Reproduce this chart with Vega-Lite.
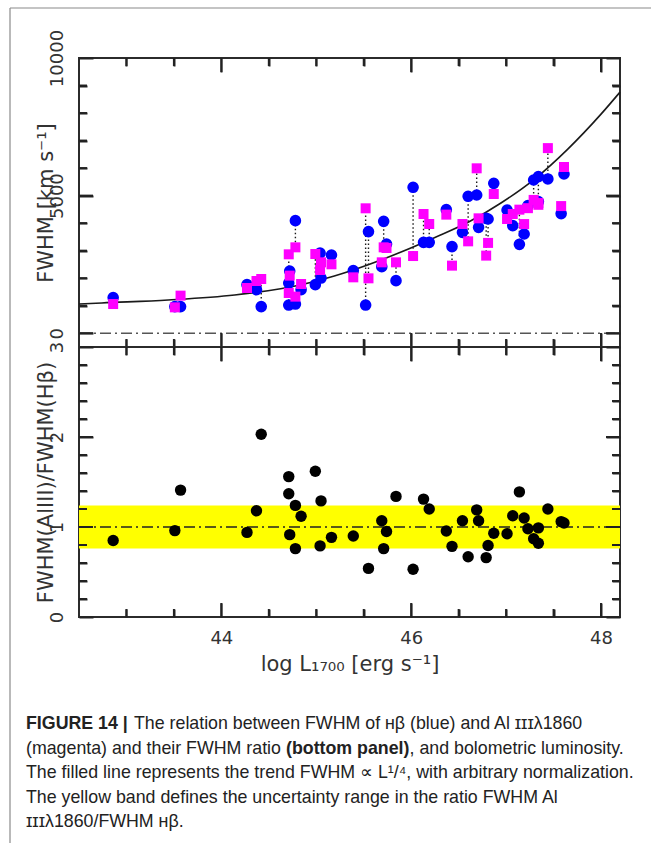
{
"$schema":"https://vega.github.io/schema/vega-lite/v6.json",
"background":"white",
"padding":{"left":8,"top":6,"right":0,"bottom":0},
"autosize":{"type":"pad"},
"spacing":0,
"bounds":"flush",
"config":{
 "view":{"stroke":"#2b2b2b","strokeWidth":2},
 "axis":{"ticks":true,"zindex":1,"domain":false,"grid":false,"tickColor":"#222222","tickWidth":2,"labelFont":"DejaVu Sans","labelFontSize":18,"labelColor":"#333","titleFont":"DejaVu Sans","titleFontSize":21,"titleFontWeight":"normal","titleColor":"#333","labelFlush":false,"labelOverlap":false,"labelBound":false}
},
"datasets":{
 "obj":[
  {"L":42.86,"hb":1294,"al":1061,"r":0.85},
  {"L":43.51,"hb":967,"al":941,"r":0.96},
  {"L":43.57,"hb":967,"al":1366,"r":1.41},
  {"L":44.27,"hb":1766,"al":1643,"r":0.94},
  {"L":44.37,"hb":1584,"al":1897,"r":1.18},
  {"L":44.42,"hb":967,"al":1970,"r":2.03},
  {"L":44.71,"hb":1824,"al":2867,"r":1.56},
  {"L":44.71,"hb":1025,"al":1461,"r":1.37},
  {"L":44.72,"hb":2260,"al":2093,"r":0.915},
  {"L":44.78,"hb":4091,"al":3121,"r":0.76},
  {"L":44.78,"hb":1061,"al":1330,"r":1.24},
  {"L":44.84,"hb":1584,"al":1788,"r":1.12},
  {"L":44.99,"hb":1766,"al":2878,"r":1.62},
  {"L":45.05,"hb":2006,"al":2576,"r":1.29},
  {"L":45.04,"hb":2914,"al":2297,"r":0.79},
  {"L":45.16,"hb":2842,"al":2504,"r":0.885},
  {"L":45.39,"hb":2275,"al":2031,"r":0.9},
  {"L":45.55,"hb":3692,"al":1995,"r":0.54},
  {"L":45.52,"hb":1025,"al":4539,"r":null},
  {"L":45.69,"hb":2420,"al":2576,"r":1.07},
  {"L":45.74,"hb":3241,"al":3096,"r":0.95},
  {"L":45.71,"hb":4066,"al":3121,"r":0.76},
  {"L":45.84,"hb":1911,"al":2576,"r":1.34},
  {"L":46.02,"hb":5302,"al":2805,"r":0.53},
  {"L":46.13,"hb":3303,"al":4332,"r":1.31},
  {"L":46.19,"hb":3303,"al":3968,"r":1.2},
  {"L":46.37,"hb":4491,"al":4309,"r":0.955},
  {"L":46.43,"hb":3147,"al":2456,"r":0.785},
  {"L":46.54,"hb":3666,"al":3968,"r":1.07},
  {"L":46.6,"hb":4975,"al":3339,"r":0.67},
  {"L":46.69,"hb":5022,"al":5992,"r":1.19},
  {"L":46.71,"hb":3848,"al":4175,"r":1.07},
  {"L":46.79,"hb":4175,"al":2820,"r":0.66},
  {"L":46.81,"hb":4150,"al":3282,"r":0.795},
  {"L":46.87,"hb":5447,"al":5058,"r":0.93},
  {"L":47.01,"hb":4477,"al":4150,"r":0.925},
  {"L":47.07,"hb":3910,"al":4332,"r":1.125},
  {"L":47.14,"hb":3230,"al":4490,"r":1.39},
  {"L":47.19,"hb":3606,"al":3966,"r":1.1},
  {"L":47.23,"hb":4636,"al":4544,"r":0.98},
  {"L":47.29,"hb":5568,"al":4844,"r":0.87},
  {"L":47.34,"hb":4782,"al":4730,"r":0.99},
  {"L":47.34,"hb":5690,"al":4666,"r":0.82},
  {"L":47.44,"hb":5605,"al":6726,"r":1.2},
  {"L":47.58,"hb":4346,"al":4620,"r":1.06},
  {"L":47.61,"hb":5785,"al":6040,"r":1.045}
 ],
 "curve":[
  {"L":42.5,"F":1060},{"L":42.74,"F":1100},{"L":43.44,"F":1208},{"L":44.14,"F":1389},{"L":44.84,"F":1760},{"L":45.19,"F":2080},{"L":45.54,"F":2480},{"L":45.9,"F":2960},{"L":46.25,"F":3480},{"L":46.6,"F":4030},{"L":46.95,"F":4740},{"L":47.3,"F":5600},{"L":47.65,"F":6690},{"L":48.0,"F":7960},{"L":48.2,"F":8760}
 ],
 "band":[{"lo":0.76,"hi":1.24}],
 "xmaj":[{"v":44},{"v":46},{"v":48}],
 "xmin":[{"v":43},{"v":43.5},{"v":44.5},{"v":45},{"v":45.5},{"v":46.5},{"v":47},{"v":47.5}],
 "ymajT":[{"v":0},{"v":5000}],
 "yminT":[{"v":1000},{"v":2000},{"v":3000},{"v":4000},{"v":6000},{"v":7000},{"v":8000},{"v":9000}],
 "ymajB":[{"v":1},{"v":2}],
 "yminB":[{"v":0.2},{"v":0.4},{"v":0.6},{"v":0.8},{"v":1.2},{"v":1.4},{"v":1.6},{"v":1.8},{"v":2.2},{"v":2.4},{"v":2.6},{"v":2.8}],
 "caption":[
  {"line":1,"s":"a","t":"FIGURE 14 |"},
  {"line":1,"s":"b","t":"The relation between FWHM of ʜβ (blue) and Al ɪɪɪλ1860"},
  {"line":2,"s":"c","t":"(magenta) and their FWHM ratio"},
  {"line":2,"s":"d","t":"(bottom panel)"},
  {"line":2,"s":"e","t":", and bolometric luminosity."},
  {"line":3,"s":"c","t":"The filled line represents the trend FWHM ∝ L¹/⁴, with arbitrary normalization."},
  {"line":4,"s":"c","t":"The yellow band defines the uncertainty range in the ratio FWHM Al"},
  {"line":5,"s":"c","t":"ɪɪɪλ1860/FWHM ʜβ."}
 ]
},
"vconcat":[
 {
  "width":541,"height":289,
  "resolve":{"axis":{"x":"independent","y":"independent"}},
  "layer":[
   {"data":{"values":[{"f":1}]},"mark":{"type":"rule","color":"#8a8a8a","strokeWidth":1.2},"encoding":{"x":{"value":-69},"y":{"value":-50},"y2":{"value":900}}},
   {"data":{"values":[{"f":1}]},"mark":{"type":"rule","color":"#8a8a8a","strokeWidth":1.2},"encoding":{"x":{"value":-69},"x2":{"value":700},"y":{"value":-50}}},
   {"data":{"name":"curve"},"mark":{"type":"line","color":"#1a1a1a","strokeWidth":1.6,"interpolate":"monotone"},
    "encoding":{
     "x":{"field":"L","type":"quantitative","scale":{"domain":[42.5,48.2],"nice":false,"zero":false},
      "axis":{"orient":"bottom","values":[44,46,48],"tickSize":-14,"labels":false,"title":null}},
     "y":{"field":"F","type":"quantitative","scale":{"domain":[-500,10000],"nice":false,"zero":false},
      "axis":{"orient":"left","values":[0,5000,10000],"tickSize":-14,"format":"d","labelAngle":270,"labelAlign":"center","labelBaseline":"bottom","labelPadding":27,"title":"FWHM [km s⁻¹]","titlePadding":-8}}
    }},
   {"data":{"values":[{"v":0}]},"mark":{"type":"rule","color":"#555","strokeWidth":1.3,"strokeDash":[11,4,2,4]},
    "encoding":{
     "x":{"datum":42.5,"type":"quantitative","axis":{"orient":"bottom","values":[43,43.5,44.5,45,45.5,46.5,47,47.5],"tickSize":-8,"labels":false,"title":null}},
     "x2":{"datum":48.2},
     "y":{"field":"v","type":"quantitative","axis":{"orient":"left","values":[1000,2000,3000,4000,6000,7000,8000,9000],"tickSize":-8,"labels":false,"title":null}}
    }},
   {"data":{"name":"obj"},"mark":{"type":"rule","color":"#1a1a1a","strokeWidth":1.4,"strokeDash":[1.5,2.5]},
    "encoding":{
     "x":{"field":"L","type":"quantitative","axis":{"orient":"top","values":[44,46,48],"tickSize":-14,"labels":false,"title":null}},
     "y":{"field":"hb","type":"quantitative","axis":{"orient":"right","values":[0,5000,10000],"tickSize":-14,"labels":false,"title":null}},
     "y2":{"field":"al"}
    }},
   {"data":{"name":"obj"},"mark":{"type":"circle","color":"#0000ff","size":135,"opacity":1},
    "encoding":{
     "x":{"field":"L","type":"quantitative","axis":{"orient":"top","values":[43,43.5,44.5,45,45.5,46.5,47,47.5],"tickSize":-8,"labels":false,"title":null}},
     "y":{"field":"hb","type":"quantitative","axis":{"orient":"right","values":[1000,2000,3000,4000,6000,7000,8000,9000],"tickSize":-8,"labels":false,"title":null}}
    }},
   {"data":{"name":"obj"},"mark":{"type":"square","color":"#ff00ff","size":100,"opacity":1},"encoding":{"x":{"field":"L","type":"quantitative","axis":null},"y":{"field":"al","type":"quantitative","axis":null}}},
   {"data":{"name":"xmaj"},"mark":{"type":"tick","orient":"vertical","size":28,"thickness":2,"color":"#222","opacity":1,"clip":true},"encoding":{"x":{"field":"v","type":"quantitative","axis":null},"y":{"datum":10000,"type":"quantitative","axis":null}}},
   {"data":{"name":"xmaj"},"mark":{"type":"tick","orient":"vertical","size":28,"thickness":2,"color":"#222","opacity":1,"clip":true},"encoding":{"x":{"field":"v","type":"quantitative","axis":null},"y":{"datum":-500,"type":"quantitative","axis":null}}},
   {"data":{"name":"xmin"},"mark":{"type":"tick","orient":"vertical","size":16,"thickness":2,"color":"#222","opacity":1,"clip":true},"encoding":{"x":{"field":"v","type":"quantitative","axis":null},"y":{"datum":10000,"type":"quantitative","axis":null}}},
   {"data":{"name":"xmin"},"mark":{"type":"tick","orient":"vertical","size":16,"thickness":2,"color":"#222","opacity":1,"clip":true},"encoding":{"x":{"field":"v","type":"quantitative","axis":null},"y":{"datum":-500,"type":"quantitative","axis":null}}},
   {"data":{"name":"ymajT"},"mark":{"type":"tick","orient":"horizontal","size":28,"thickness":2,"color":"#222","opacity":1,"clip":true},"encoding":{"y":{"field":"v","type":"quantitative","axis":null},"x":{"datum":42.5,"type":"quantitative","axis":null}}},
   {"data":{"name":"ymajT"},"mark":{"type":"tick","orient":"horizontal","size":28,"thickness":2,"color":"#222","opacity":1,"clip":true},"encoding":{"y":{"field":"v","type":"quantitative","axis":null},"x":{"datum":48.2,"type":"quantitative","axis":null}}},
   {"data":{"name":"yminT"},"mark":{"type":"tick","orient":"horizontal","size":16,"thickness":2,"color":"#222","opacity":1,"clip":true},"encoding":{"y":{"field":"v","type":"quantitative","axis":null},"x":{"datum":42.5,"type":"quantitative","axis":null}}},
   {"data":{"name":"yminT"},"mark":{"type":"tick","orient":"horizontal","size":16,"thickness":2,"color":"#222","opacity":1,"clip":true},"encoding":{"y":{"field":"v","type":"quantitative","axis":null},"x":{"datum":48.2,"type":"quantitative","axis":null}}}
  ]
 },
 {
  "width":541,"height":270,
  "resolve":{"axis":{"x":"independent","y":"independent"}},
  "layer":[
   {"data":{"name":"band"},"mark":{"type":"rect","color":"#ffff00","opacity":1},
    "encoding":{
     "x":{"datum":42.5,"type":"quantitative","scale":{"domain":[42.5,48.2],"nice":false,"zero":false},
      "axis":{"orient":"top","values":[44,46,48],"tickSize":-14,"labels":false,"title":null}},
     "x2":{"datum":48.2},
     "y":{"field":"lo","type":"quantitative","scale":{"domain":[0,3],"nice":false,"zero":false},
      "axis":{"orient":"left","values":[0,1,2,3],"tickSize":-14,"format":"d","labelAngle":270,"labelAlign":"center","labelBaseline":"bottom","labelPadding":27,"title":"FWHM(AlIII)/FWHM(Hβ)","titlePadding":-8}},
     "y2":{"field":"hi"}
    }},
   {"data":{"values":[{"v":1}]},"mark":{"type":"rule","color":"#222","strokeWidth":1.3,"strokeDash":[11,4,2,4]},
    "encoding":{
     "x":{"datum":42.5,"type":"quantitative","axis":{"orient":"top","values":[43,43.5,44.5,45,45.5,46.5,47,47.5],"tickSize":-8,"labels":false,"title":null}},
     "x2":{"datum":48.2},
     "y":{"field":"v","type":"quantitative","axis":{"orient":"left","values":[0.2,0.4,0.6,0.8,1.2,1.4,1.6,1.8,2.2,2.4,2.6,2.8],"tickSize":-8,"labels":false,"title":null}}
    }},
   {"data":{"name":"obj"},"transform":[{"filter":"isValid(datum.r) && datum.r >= 1"}],"mark":{"type":"circle","color":"#000000","size":130,"opacity":1},
    "encoding":{
     "x":{"field":"L","type":"quantitative","axis":{"orient":"bottom","values":[44,46,48],"tickSize":-14,"format":"d","labelPadding":26,"title":"log L₁₇₀₀ [erg s⁻¹]","titlePadding":6}},
     "y":{"field":"r","type":"quantitative","axis":{"orient":"right","values":[0,1,2,3],"tickSize":-14,"labels":false,"title":null}}
    }},
   {"data":{"name":"obj"},"transform":[{"filter":"isValid(datum.r) && datum.r < 1"}],"mark":{"type":"circle","color":"#000000","size":130,"opacity":1},
    "encoding":{
     "x":{"field":"L","type":"quantitative","axis":{"orient":"bottom","values":[43,43.5,44.5,45,45.5,46.5,47,47.5],"tickSize":-8,"labels":false,"title":null}},
     "y":{"field":"r","type":"quantitative","axis":{"orient":"right","values":[0.2,0.4,0.6,0.8,1.2,1.4,1.6,1.8,2.2,2.4,2.6,2.8],"tickSize":-8,"labels":false,"title":null}}
    }},
   {"data":{"name":"xmaj"},"mark":{"type":"tick","orient":"vertical","size":28,"thickness":2,"color":"#222","opacity":1,"clip":true},"encoding":{"x":{"field":"v","type":"quantitative","axis":null},"y":{"datum":3,"type":"quantitative","axis":null}}},
   {"data":{"name":"xmaj"},"mark":{"type":"tick","orient":"vertical","size":28,"thickness":2,"color":"#222","opacity":1,"clip":true},"encoding":{"x":{"field":"v","type":"quantitative","axis":null},"y":{"datum":0,"type":"quantitative","axis":null}}},
   {"data":{"name":"xmin"},"mark":{"type":"tick","orient":"vertical","size":16,"thickness":2,"color":"#222","opacity":1,"clip":true},"encoding":{"x":{"field":"v","type":"quantitative","axis":null},"y":{"datum":3,"type":"quantitative","axis":null}}},
   {"data":{"name":"xmin"},"mark":{"type":"tick","orient":"vertical","size":16,"thickness":2,"color":"#222","opacity":1,"clip":true},"encoding":{"x":{"field":"v","type":"quantitative","axis":null},"y":{"datum":0,"type":"quantitative","axis":null}}},
   {"data":{"name":"ymajB"},"mark":{"type":"tick","orient":"horizontal","size":28,"thickness":2,"color":"#222","opacity":1,"clip":true},"encoding":{"y":{"field":"v","type":"quantitative","axis":null},"x":{"datum":42.5,"type":"quantitative","axis":null}}},
   {"data":{"name":"ymajB"},"mark":{"type":"tick","orient":"horizontal","size":28,"thickness":2,"color":"#222","opacity":1,"clip":true},"encoding":{"y":{"field":"v","type":"quantitative","axis":null},"x":{"datum":48.2,"type":"quantitative","axis":null}}},
   {"data":{"name":"yminB"},"mark":{"type":"tick","orient":"horizontal","size":16,"thickness":2,"color":"#222","opacity":1,"clip":true},"encoding":{"y":{"field":"v","type":"quantitative","axis":null},"x":{"datum":42.5,"type":"quantitative","axis":null}}},
   {"data":{"name":"yminB"},"mark":{"type":"tick","orient":"horizontal","size":16,"thickness":2,"color":"#222","opacity":1,"clip":true},"encoding":{"y":{"field":"v","type":"quantitative","axis":null},"x":{"datum":48.2,"type":"quantitative","axis":null}}}
  ]
 },
 {
  "width":541,"height":228,
  "view":{"stroke":null},
  "data":{"name":"caption"},
  "encoding":{
   "y":{"field":"line","type":"quantitative","scale":{"domain":[1,5],"range":[107,205]},"axis":null},
   "text":{"field":"t"}
  },
  "layer":[
   {"transform":[{"filter":"datum.s == 'a'"}],"mark":{"type":"text","x":-53,"align":"left","baseline":"middle","font":"Liberation Sans","fontSize":17.8,"fontWeight":"bold","color":"#222"}},
   {"transform":[{"filter":"datum.s == 'b'"}],"mark":{"type":"text","x":-53,"dx":108,"align":"left","baseline":"middle","font":"Liberation Sans","fontSize":17.8,"color":"#222"}},
   {"transform":[{"filter":"datum.s == 'c'"}],"mark":{"type":"text","x":-53,"align":"left","baseline":"middle","font":"Liberation Sans","fontSize":17.8,"color":"#222"}},
   {"transform":[{"filter":"datum.s == 'd'"}],"mark":{"type":"text","x":-53,"dx":260,"align":"left","baseline":"middle","font":"Liberation Sans","fontSize":17.8,"fontWeight":"bold","color":"#222"}},
   {"transform":[{"filter":"datum.s == 'e'"}],"mark":{"type":"text","x":-53,"dx":383.6,"align":"left","baseline":"middle","font":"Liberation Sans","fontSize":17.8,"color":"#222"}}
  ]
 }
]
}
